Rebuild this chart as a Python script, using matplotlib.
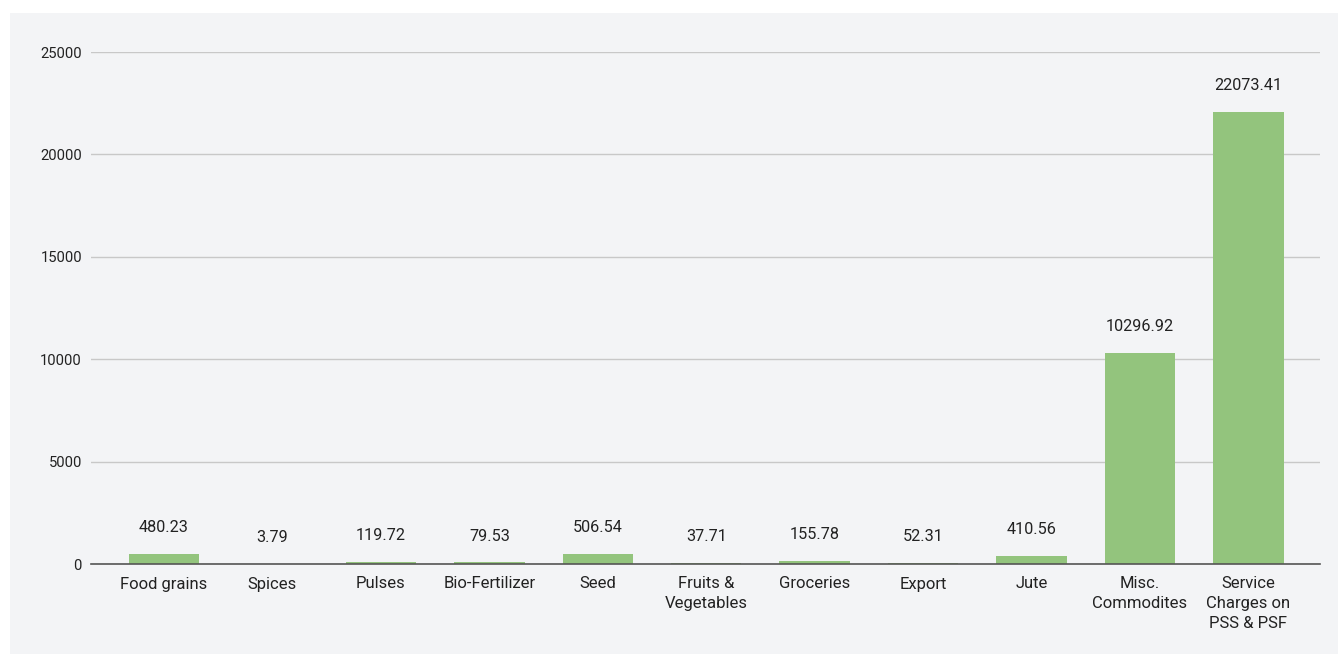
import matplotlib.pyplot as plt
from matplotlib.patches import Rectangle

# Valores por categoria
categorias = [
    "Food grains", "Spices", "Pulses", "Bio-Fertilizer", "Seed",
    "Fruits &\nVegetables", "Groceries", "Export", "Jute",
    "Misc.\nCommodites", "Service\nCharges on\nPSS & PSF",
]
valores = [480.23, 3.79, 119.72, 79.53, 506.54, 37.71, 155.78, 52.31,
           410.56, 10296.92, 22073.41]
yticks = [0, 5000, 10000, 15000, 20000, 25000]

plt.rcParams['font.family'] = ['Roboto', 'DejaVu Sans']

fig = plt.figure(figsize=(13.38, 6.54), dpi=100)
fig.patch.set_facecolor('white')

# Painel cinza de fundo
fig.patches.append(Rectangle((10 / 1338, 0), 1 - 10 / 1338, 1 - 13 / 654,
                             transform=fig.transFigure, facecolor='#f3f4f6',
                             edgecolor='none', zorder=-5))

ax = fig.add_axes([91 / 1338, 1 - 564 / 654, (1320 - 91) / 1338, (564 - 52) / 654])
ax.set_facecolor('none')

x = list(range(len(categorias)))
barras = ax.bar(x, valores, width=0.65, color='#93c47d', zorder=3)

for b, v in zip(barras, valores):
    ax.annotate(f"{v:.2f}", (b.get_x() + b.get_width() / 2, v),
                xytext=(0, 13.5), textcoords='offset points',
                ha='center', va='bottom', fontsize=11.7, color='#222222')

ax.set_xlim(-0.673, 10.66)
ax.set_ylim(0, 25000)
ax.set_yticks(yticks)
ax.set_yticklabels([str(t) for t in yticks], fontsize=10.6, color='#222222')
ax.set_xticks(x)
ax.set_xticklabels(categorias, fontsize=12, color='#222222', linespacing=1.38)
ax.tick_params(axis='both', length=0)
ax.tick_params(axis='y', pad=6.5)
ax.tick_params(axis='x', pad=9)

ax.grid(axis='y', color='#c8c8c8', linewidth=1, zorder=1)
for lado in ['top', 'right', 'left']:
    ax.spines[lado].set_visible(False)
ax.spines['bottom'].set_color('#555555')
ax.spines['bottom'].set_linewidth(1.2)
ax.spines['bottom'].set_zorder(4)

fig.savefig('out.png', dpi=100)
